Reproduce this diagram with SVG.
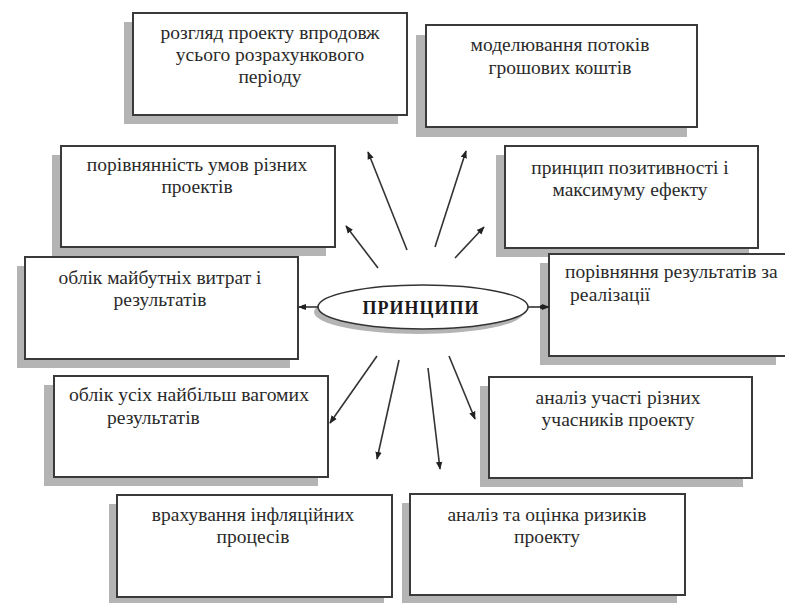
<svg xmlns="http://www.w3.org/2000/svg" width="785" height="603" viewBox="0 0 785 603">
<style>
.shadow{fill:#b4b4b4;stroke:none}
.box{fill:#fff;stroke:#3a3a3a;stroke-width:2}
.t{font-family:'Liberation Serif','Times New Roman',serif;font-size:19.5px;fill:#2a2a2a}
.c{text-anchor:middle}
.conn{stroke:#333;stroke-width:1.6;fill:none}
.title{font-family:'Liberation Serif','Times New Roman',serif;font-size:18px;font-weight:bold;fill:#1a1a1a;text-anchor:middle;letter-spacing:1px}
</style>
<defs>
<marker id="arr" viewBox="0 0 10 10" refX="9" refY="5" markerWidth="8" markerHeight="8" orient="auto" markerUnits="userSpaceOnUse">
<path d="M0,1 L10,5 L0,9 z" fill="#222"/>
</marker>
</defs>
<rect width="785" height="603" fill="#fff"/>

<g id="n1">
<rect class="shadow" x="124" y="22" width="274" height="102"/>
<rect class="box" x="133" y="13" width="274" height="102"/>
<text class="t c" x="270" y="39">розгляд проекту впродовж</text>
<text class="t c" x="270" y="61">усього розрахункового</text>
<text class="t c" x="270" y="83">періоду</text>
</g>

<g id="n2">
<rect class="shadow" x="416" y="35" width="271" height="102"/>
<rect class="box" x="426" y="25" width="271" height="102"/>
<text class="t c" x="560" y="51">моделювання потоків</text>
<text class="t c" x="560" y="74">грошових коштів</text>
</g>

<g id="n3">
<rect class="shadow" x="52" y="155" width="274" height="101"/>
<rect class="box" x="61" y="146" width="274" height="101"/>
<text class="t c" x="197" y="171">порівнянність умов різних</text>
<text class="t c" x="197" y="193">проектів</text>
</g>

<g id="n4">
<rect class="shadow" x="496" y="155" width="253" height="102"/>
<rect class="box" x="505" y="146" width="253" height="102"/>
<text class="t c" x="630" y="174">принцип позитивності і</text>
<text class="t c" x="630" y="196">максимуму ефекту</text>
</g>

<g id="n5">
<rect class="shadow" x="17" y="266" width="273" height="102"/>
<rect class="box" x="25" y="257" width="273" height="102"/>
<text class="t c" x="160" y="284">облік майбутніх витрат і</text>
<text class="t c" x="160" y="306">результатів</text>
</g>

<g id="n6">
<rect class="shadow" x="540" y="263" width="236" height="102"/>
<rect class="box" x="549" y="254" width="240" height="102"/>
<text class="t" x="565" y="278">порівняння результатів за</text>
<text class="t" x="570" y="301">реалізації</text>
</g>

<g id="n7">
<rect class="shadow" x="44" y="385" width="274" height="101"/>
<rect class="box" x="54" y="376" width="274" height="101"/>
<text class="t" x="69" y="401" textLength="240" lengthAdjust="spacingAndGlyphs">облік усіх найбільш вагомих</text>
<text class="t" x="107" y="424">результатів</text>
</g>

<g id="n8">
<rect class="shadow" x="480" y="386" width="263" height="101"/>
<rect class="box" x="489" y="377" width="263" height="101"/>
<text class="t c" x="618" y="404">аналіз участі різних</text>
<text class="t c" x="618" y="426">учасників проекту</text>
</g>

<g id="n9">
<rect class="shadow" x="109" y="504" width="275" height="102"/>
<rect class="box" x="117" y="495" width="275" height="102"/>
<text class="t c" x="253" y="521">врахування інфляційних</text>
<text class="t c" x="253" y="543">процесів</text>
</g>

<g id="n10">
<rect class="shadow" x="402" y="503" width="275" height="101"/>
<rect class="box" x="410" y="494" width="275" height="101"/>
<text class="t c" x="547" y="521">аналіз та оцінка ризиків</text>
<text class="t c" x="547" y="543">проекту</text>
</g>

<g id="center">
<ellipse cx="419" cy="312" rx="105" ry="22" fill="#b4b4b4"/>
<ellipse cx="423" cy="307" rx="105" ry="22" fill="#fff" stroke="#333" stroke-width="1.6"/>
<text class="title" x="421" y="314">ПРИНЦИПИ</text>
</g>

<g id="connectors">
<line class="conn" x1="318" y1="307" x2="299" y2="307" marker-end="url(#arr)"/>
<circle cx="304" cy="307" r="2.2" fill="#222"/>
<line class="conn" x1="528" y1="307" x2="549" y2="307" marker-end="url(#arr)"/>
<circle cx="542" cy="307" r="2.2" fill="#222"/>
<line class="conn" x1="407" y1="250" x2="368" y2="152" marker-end="url(#arr)"/>
<line class="conn" x1="435" y1="247" x2="466" y2="151" marker-end="url(#arr)"/>
<line class="conn" x1="378" y1="268" x2="346" y2="226" marker-end="url(#arr)"/>
<line class="conn" x1="455" y1="258" x2="484" y2="227" marker-end="url(#arr)"/>
<line class="conn" x1="377" y1="356" x2="330" y2="423" marker-end="url(#arr)"/>
<line class="conn" x1="399" y1="360" x2="377" y2="459" marker-end="url(#arr)"/>
<line class="conn" x1="428" y1="368" x2="440" y2="469" marker-end="url(#arr)"/>
<line class="conn" x1="449" y1="356" x2="475" y2="419" marker-end="url(#arr)"/>
</g>
</svg>
